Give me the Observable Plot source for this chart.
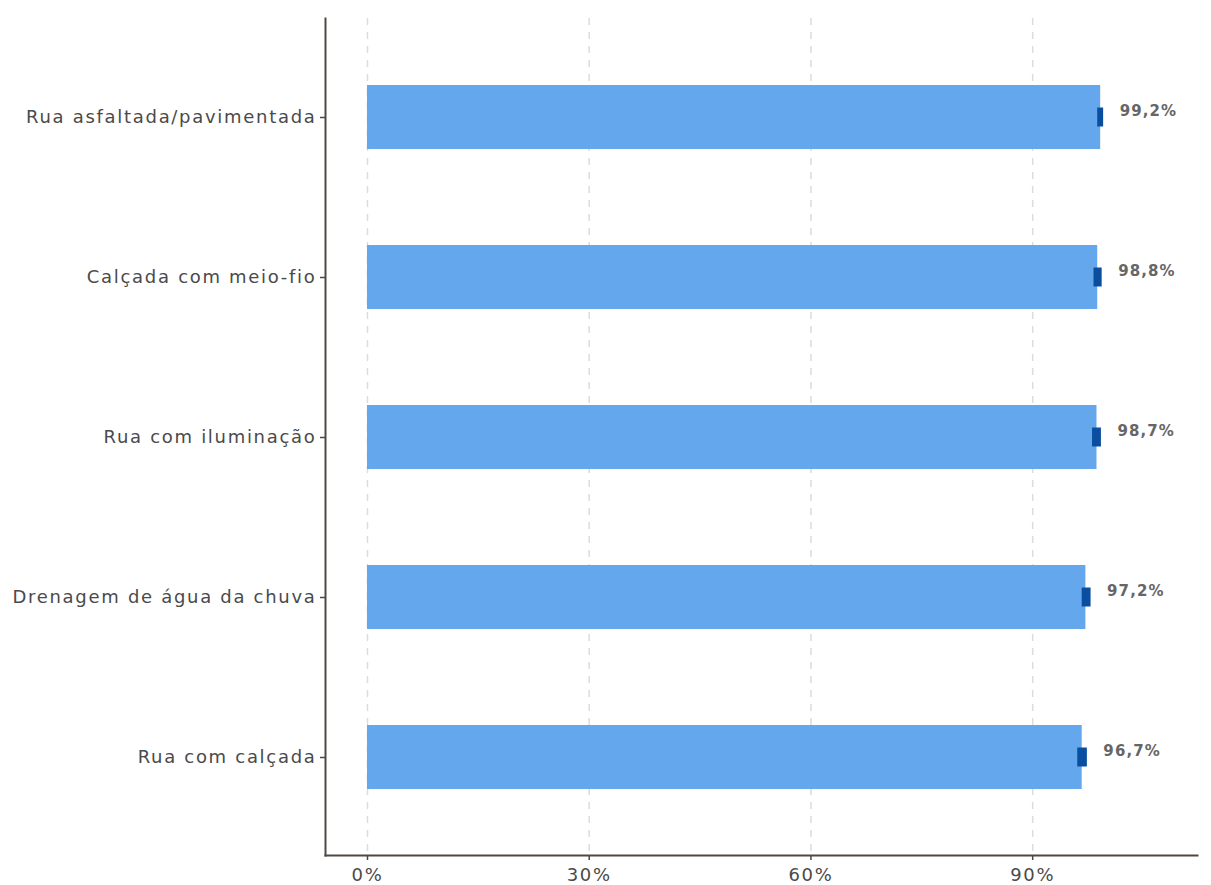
<!DOCTYPE html>
<html>
<head>
<meta charset="utf-8">
<script src="https://cdn.jsdelivr.net/npm/d3@7"></script>
<script src="https://cdn.jsdelivr.net/npm/@observablehq/plot@0.6"></script>
<style>
  html, body { margin: 0; padding: 0; background: #fff; }
  #chart svg { display: block; }
</style>
</head>
<body>
<div id="chart"></div>
<script>
const categories = ["Rua asfaltada/pavimentada", "Calçada com meio-fio", "Rua com iluminação", "Drenagem de água da chuva", "Rua com calçada"];
const values = [99.2, 98.8, 98.7, 97.2, 96.7];
const lower = [98.8, 98.3, 98.1, 96.7, 96.1];
const upper = [99.6, 99.4, 99.3, 97.9, 97.4];
const labels = ["99,2%", "98,8%", "98,7%", "97,2%", "96,7%"];
const xTicks = [0, 30, 60, 90];

const data = categories.map((c, i) => ({cat: c, v: values[i], lo: lower[i], hi: upper[i], label: labels[i]}));

const axisColor = "#4f4842";
const textColor = "#4a4a4a";

const chart = Plot.plot({
  width: 1211,
  height: 885,
  marginLeft: 325,
  marginRight: 14,
  marginTop: 18,
  marginBottom: 30,
  style: {fontFamily: "'DejaVu Sans', sans-serif", fontSize: "18px", background: "#fff"},
  x: {domain: [-5.68, 112.3], label: null},
  y: {domain: categories, label: null, paddingInner: 0.6, paddingOuter: 0.4},
  marks: [
    Plot.ruleX(xTicks, {stroke: "#dcdcdc", strokeWidth: 1.5, strokeDasharray: "7,7"}),
    Plot.barX(data, {x1: 0, x2: "v", y: "cat", fill: "#64a7ec"}),
    Plot.barX(data, {x1: "lo", x2: "hi", y: "cat", fill: "#0a4f9f", insetTop: 22.5, insetBottom: 22.5}),
    Plot.text(data, {x: "hi", y: "cat", text: "label", textAnchor: "start", dx: 16, dy: -6, fill: "#666", fontWeight: "bold", fontSize: 15}),
    Plot.axisX({ticks: xTicks, tickFormat: d => d + "%", tickSize: 5, tickPadding: 8, stroke: axisColor, strokeWidth: 1.5, color: textColor, fontSize: 18}),
    Plot.axisY({tickSize: 5, tickPadding: 4, stroke: axisColor, strokeWidth: 1.5, color: textColor, fontSize: 18}),
    Plot.frame({anchor: "left", stroke: axisColor, strokeWidth: 2}),
    Plot.frame({anchor: "bottom", stroke: axisColor, strokeWidth: 2})
  ]
});
chart.querySelectorAll("g[aria-label='x-axis tick label'] text, g[aria-label='y-axis tick label'] text").forEach(t => t.style.letterSpacing = "1.7px");
chart.querySelectorAll("g[aria-label='text'] text").forEach(t => t.style.letterSpacing = "1.1px");
document.getElementById("chart").appendChild(chart);
</script>
</body>
</html>
